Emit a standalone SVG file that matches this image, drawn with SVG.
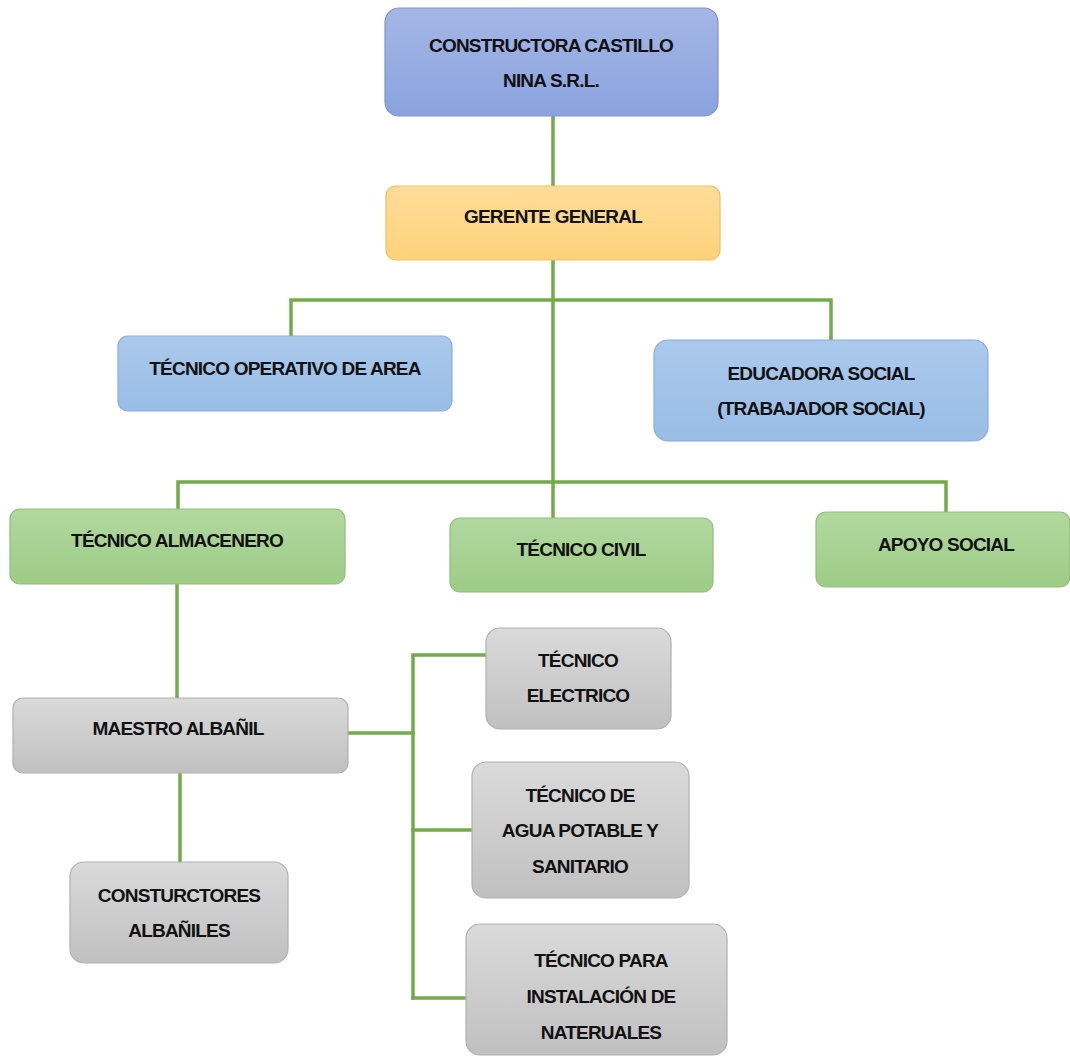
<svg xmlns="http://www.w3.org/2000/svg" width="1070" height="1057" viewBox="0 0 1070 1057">
<defs>
<linearGradient id="gBlue" x1="0" y1="0" x2="0" y2="1"><stop offset="0" stop-color="#a5b6e6"/><stop offset="1" stop-color="#8aa3de"/></linearGradient>
<linearGradient id="gYellow" x1="0" y1="0" x2="0" y2="1"><stop offset="0" stop-color="#ffdc99"/><stop offset="1" stop-color="#fed27a"/></linearGradient>
<linearGradient id="gLBlue" x1="0" y1="0" x2="0" y2="1"><stop offset="0" stop-color="#abc9ec"/><stop offset="1" stop-color="#98bde6"/></linearGradient>
<linearGradient id="gGreen" x1="0" y1="0" x2="0" y2="1"><stop offset="0" stop-color="#b2d8a0"/><stop offset="1" stop-color="#9dcc86"/></linearGradient>
<linearGradient id="gGray" x1="0" y1="0" x2="0" y2="1"><stop offset="0" stop-color="#dadada"/><stop offset="1" stop-color="#c0c0c0"/></linearGradient>
</defs>
<style>
.lnk{fill:none;stroke:#72ab4a;stroke-width:3.5;stroke-linecap:square}
.b{stroke-width:1.2}
.blue{fill:url(#gBlue);stroke:#7f95c9}
.yel{fill:url(#gYellow);stroke:#f0c060}
.lb{fill:url(#gLBlue);stroke:#8aaed8}
.grn{fill:url(#gGreen);stroke:#8fbf78}
.gry{fill:url(#gGray);stroke:#b0b0b0}
text{font-family:"Liberation Sans",Arial,sans-serif;font-weight:bold;font-size:19px;letter-spacing:-0.8px;fill:#111111;text-anchor:middle}
</style>
<rect width="1070" height="1057" fill="#ffffff"/>
<g id="connectors">
<path class="lnk" d="M553 116 V186"/>
<path class="lnk" d="M553 260 V518"/>
<path class="lnk" d="M291 336 V300 H831 V340"/>
<path class="lnk" d="M178 510 V482 H946 V512"/>
<path class="lnk" d="M177 584 V698"/>
<path class="lnk" d="M180 773 V862"/>
<path class="lnk" d="M348 733 H413"/>
<path class="lnk" d="M413 657 V998"/>
<path class="lnk" d="M413 655 H486"/>
<path class="lnk" d="M413 830 H472"/>
<path class="lnk" d="M413 998 H466"/>
</g>
<g id="n-constructora"><rect class="b blue" x="385" y="8" width="333" height="108" rx="14"/><text x="551" y="52">CONSTRUCTORA CASTILLO</text><text x="551" y="87">NINA S.R.L.</text></g>
<g id="n-gerente"><rect class="b yel" x="386" y="186" width="334" height="74" rx="10"/><text x="553" y="223">GERENTE GENERAL</text></g>
<g id="n-operativo"><rect class="b lb" x="118" y="336" width="334" height="75" rx="10"/><text x="285" y="375">TÉCNICO OPERATIVO DE AREA</text></g>
<g id="n-educadora"><rect class="b lb" x="654" y="340" width="334" height="101" rx="14"/><text x="821" y="380">EDUCADORA SOCIAL</text><text x="821" y="415">(TRABAJADOR SOCIAL)</text></g>
<g id="n-almacenero"><rect class="b grn" x="10" y="509" width="335" height="75" rx="10"/><text x="177" y="547">TÉCNICO ALMACENERO</text></g>
<g id="n-civil"><rect class="b grn" x="450" y="518" width="263" height="74" rx="10"/><text x="581" y="556">TÉCNICO CIVIL</text></g>
<g id="n-apoyo"><rect class="b grn" x="816" y="512" width="254" height="75" rx="10"/><text x="946" y="551">APOYO SOCIAL</text></g>
<g id="n-maestro"><rect class="b gry" x="13" y="698" width="335" height="75" rx="10"/><text x="178" y="735">MAESTRO ALBAÑIL</text></g>
<g id="n-constructores"><rect class="b gry" x="70" y="862" width="218" height="101" rx="14"/><text x="179" y="902">CONSTURCTORES</text><text x="179" y="937">ALBAÑILES</text></g>
<g id="n-electrico"><rect class="b gry" x="486" y="628" width="185" height="101" rx="14"/><text x="578" y="667">TÉCNICO</text><text x="578" y="702">ELECTRICO</text></g>
<g id="n-agua"><rect class="b gry" x="472" y="762" width="217" height="136" rx="14"/><text x="580" y="802">TÉCNICO DE</text><text x="580" y="837">AGUA POTABLE Y</text><text x="580" y="873">SANITARIO</text></g>
<g id="n-instalacion"><rect class="b gry" x="466" y="924" width="261" height="131" rx="14"/><text x="601" y="967">TÉCNICO PARA</text><text x="601" y="1003">INSTALACIÓN DE</text><text x="601" y="1039">NATERUALES</text></g>
</svg>
